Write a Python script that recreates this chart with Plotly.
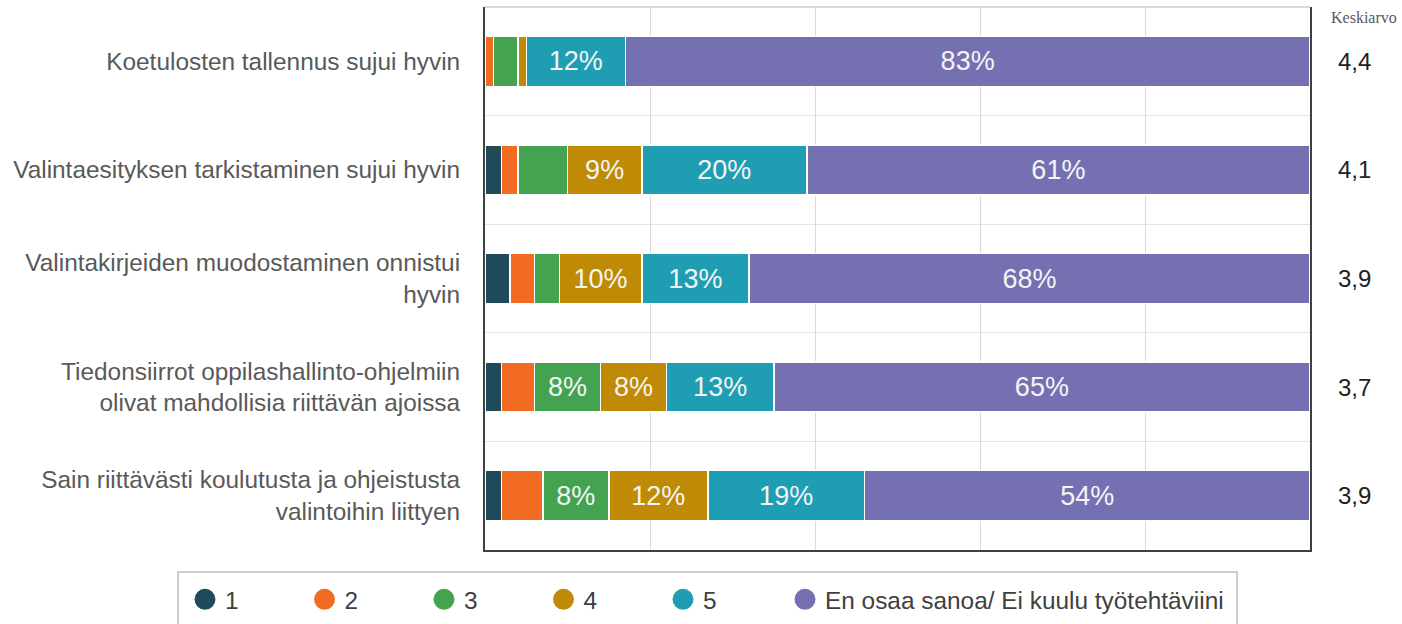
import plotly.graph_objects as go

categories = [
    "Koetulosten tallennus sujui hyvin",
    "Valintaesityksen tarkistaminen sujui hyvin",
    "Valintakirjeiden muodostaminen onnistui<br>hyvin",
    "Tiedonsiirrot oppilashallinto-ohjelmiin<br>olivat mahdollisia riittävän ajoissa",
    "Sain riittävästi koulutusta ja ohjeistusta<br>valintoihin liittyen",
]
series_names = ["1", "2", "3", "4", "5", "En osaa sanoa/ Ei kuulu työtehtäviini"]
s1 = [0, 2, 3, 2, 2]
s2 = [1, 2, 3, 4, 5]
s3 = [3, 6, 3, 8, 8]
s4 = [1, 9, 10, 8, 12]
s5 = [12, 20, 13, 13, 19]
s6 = [83, 61, 68, 65, 54]
keskiarvo = ["4,4", "4,1", "3,9", "3,7", "3,9"]
colors = ["#1F4B5A", "#F26B22", "#43A350", "#BF8A05", "#1F9EB3", "#7570B2"]

series = [s1, s2, s3, s4, s5, s6]
FONT = "Liberation Sans, Arial, sans-serif"
ypos = list(range(len(categories)))

fig = go.Figure()
for name, vals, col in zip(series_names, series, colors):
    fig.add_trace(go.Bar(
        y=ypos, x=vals, orientation="h", name=name,
        marker=dict(color=col, line=dict(color="white", width=1.5)),
        width=0.46,
        text=[f"{v}%" if v >= 8 else "" for v in vals],
        textposition="inside", insidetextanchor="middle",
        textfont=dict(family=FONT, size=27, color="#F4F4F4"),
        constraintext="none",
        showlegend=False, hoverinfo="skip",
    ))
for idx, (name, col) in enumerate(zip(series_names, colors)):
    fig.add_trace(go.Scatter(
        x=[None], y=[None], mode="markers", name=name,
        marker=dict(symbol="circle", size=16, color=col, line=dict(color=col, width=5)),
        showlegend=True,
        legend="legend" if idx < 5 else "legend2",
    ))

for i, k in enumerate(keskiarvo):
    fig.add_annotation(x=1.0545, xref="paper", y=ypos[i], yref="y", text=k,
                       showarrow=False, xanchor="center",
                       font=dict(family=FONT, size=24, color="#222222"))
fig.add_annotation(x=(1363.5 - 485) / 825, xref="paper", y=0.98, yref="paper", text="Keskiarvo",
                   showarrow=False, xanchor="center", yanchor="middle",
                   font=dict(family="Liberation Serif, Times New Roman, serif", size=16, color="#595959"))

# legend frame and top border of the plot area
fig.add_shape(type="rect", xref="paper", yref="paper",
              x0=(178 - 485) / 825, x1=(1237 - 485) / 825, y0=-0.0405, y1=-0.3,
              line=dict(color="#BFBFBF", width=1.5), fillcolor="rgba(0,0,0,0)", layer="above")
fig.add_shape(type="line", xref="paper", yref="paper", x0=0, x1=1, y0=1, y1=1,
              line=dict(color="#D9D9D9", width=2))

legend_common = dict(
    orientation="h", xanchor="left", yanchor="top",
    xref="container", yref="container",
    borderwidth=0, bgcolor="rgba(0,0,0,0)",
    font=dict(family=FONT, size=24.4, color="#404040"),
    traceorder="normal",
)

fig.update_layout(
    barmode="stack",
    width=1402, height=624,
    margin=dict(l=485, r=92, t=7, b=74, autoexpand=False),
    plot_bgcolor="white", paper_bgcolor="white",
    font=dict(family=FONT),
    legend=dict(x=185 / 1402, y=1 - 577 / 624, entrywidth=74.5, entrywidthmode="pixels", **legend_common),
    legend2=dict(x=785 / 1402, y=1 - 577 / 624, **legend_common),
    xaxis=dict(range=[0, 100], showticklabels=False, ticks="",
               showgrid=True, gridcolor="#D9D9D9", gridwidth=1, dtick=20, tick0=0,
               showline=True, linecolor="#404040", linewidth=2, zeroline=False, fixedrange=True),
    yaxis=dict(range=[4.5, -0.5], tickmode="array", tickvals=ypos, ticktext=categories,
               tickfont=dict(family=FONT, size=24.4, color="#595959"),
               ticks="outside", ticklen=18, tickcolor="rgba(0,0,0,0)",
               showgrid=False, showline=True, linecolor="#404040", linewidth=2, mirror=True,
               zeroline=False,
               minor=dict(tick0=-0.5, dtick=1, showgrid=True, gridcolor="#E3E3E3", gridwidth=1, ticks=""),
               fixedrange=True),
)

fig.write_html("out.html", config={"displayModeBar": False},
               post_script="document.body.style.margin='0';")
